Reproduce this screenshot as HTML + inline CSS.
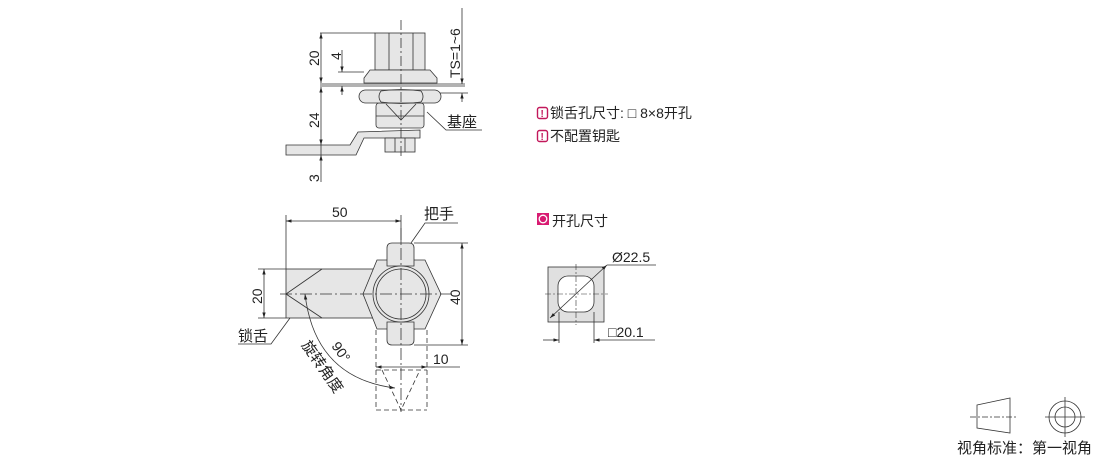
<!DOCTYPE html>
<html><head><meta charset="utf-8"><style>
html,body{margin:0;padding:0;background:#fff;}
svg{display:block;font-family:"Liberation Sans","Noto Sans CJK SC",sans-serif;}
</style></head><body>
<svg width="1110" height="461" viewBox="0 0 1110 461" xmlns="http://www.w3.org/2000/svg">
<defs>
<marker id="a" viewBox="0 0 10 10" refX="10" refY="5" markerWidth="7" markerHeight="7" orient="auto-start-reverse"><path d="M0,2 L10,5 L0,8z" fill="#222"/></marker>
</defs>
<g stroke="#333" stroke-width="0.8" fill="none">
<!-- TOP VIEW -->
<g fill="#e6e6e6">
<rect x="375" y="33" width="50" height="37"/>
<path d="M370,70 L430,70 L437,78 L437,83 L364,83 L364,78 Z"/>
<rect x="376" y="103" width="48" height="25" rx="3"/>
<path d="M286,145 L350,145 L358,132 L420,130 L420,138 L364,138 L356,155 L286,155 Z"/>
<rect x="385" y="138" width="30" height="14"/>
<rect x="359" y="90" width="82" height="13" rx="6.5"/>
</g>
<path d="M381,91 Q377,96.5 381,102 M421,91 Q425,96.5 421,102"/>
<path d="M381,91 Q401,88 421,91 M381,102 Q401,105 421,102"/>
<line x1="389" y1="33" x2="389" y2="70"/><line x1="413" y1="33" x2="413" y2="70"/>
<line x1="376" y1="116" x2="424" y2="116"/>
<path d="M386,104 L401,120 L416,104"/>
<line x1="395" y1="138" x2="395" y2="152"/><line x1="405" y1="138" x2="405" y2="152"/>
<line x1="401" y1="20" x2="401" y2="158" stroke-dasharray="10,3,2,3"/>
<line x1="320" y1="33" x2="375" y2="33"/>
<line x1="320" y1="84" x2="465" y2="84"/><line x1="320" y1="86" x2="465" y2="86"/>
<line x1="338" y1="72" x2="364" y2="72"/>
<line x1="440" y1="93" x2="468" y2="93"/>
<line x1="321" y1="33" x2="321" y2="83" marker-start="url(#a)" marker-end="url(#a)"/>
<line x1="321" y1="87" x2="321" y2="145" marker-start="url(#a)" marker-end="url(#a)"/>
<line x1="321" y1="145" x2="321" y2="155"/>
<line x1="321" y1="155" x2="321" y2="182" marker-start="url(#a)"/>
<line x1="342" y1="50" x2="342" y2="72" marker-end="url(#a)"/>
<line x1="342" y1="86" x2="342" y2="95" marker-start="url(#a)"/>
<line x1="462" y1="8" x2="462" y2="84" marker-end="url(#a)"/>
<line x1="462" y1="93" x2="462" y2="102" marker-start="url(#a)"/>
<path d="M427,112 L446,130 L482,130"/>
<!-- BOTTOM VIEW -->
<g fill="#e6e6e6">
<rect x="286" y="269" width="90" height="49"/>
<path d="M377,260 L425,260 L441,294 L425,329 L377,329 L363,294 Z"/>
<path d="M387,266 L387,248 Q387,243 392,243 L409,243 Q414,243 414,248 L414,266 Z"/>
<path d="M387,322 L387,340 Q387,345 392,345 L409,345 Q414,345 414,340 L414,322 Z"/>
<circle cx="401" cy="294" r="28"/>
<circle cx="401" cy="294" r="25"/>
</g>
<path d="M286,294 L322,269 M286,294 L322,318"/>
<line x1="280" y1="294" x2="452" y2="294" stroke-dasharray="12,3,2,3"/>
<line x1="401" y1="228" x2="401" y2="412" stroke-dasharray="12,3,2,3"/>
<line x1="286" y1="215" x2="286" y2="269"/><line x1="401" y1="215" x2="401" y2="243"/>
<line x1="286" y1="221" x2="401" y2="221" marker-start="url(#a)" marker-end="url(#a)"/>
<line x1="258" y1="269" x2="286" y2="269"/><line x1="258" y1="318" x2="286" y2="318"/>
<line x1="264" y1="269" x2="264" y2="318" marker-start="url(#a)" marker-end="url(#a)"/>
<line x1="414" y1="243" x2="468" y2="243"/><line x1="414" y1="345" x2="468" y2="345"/>
<line x1="462" y1="243" x2="462" y2="345" marker-start="url(#a)" marker-end="url(#a)"/>
<g stroke-dasharray="5,3"><line x1="376" y1="330" x2="376" y2="410"/><line x1="427" y1="330" x2="427" y2="410"/>
<line x1="376" y1="370" x2="427" y2="370"/><line x1="376" y1="410" x2="427" y2="410"/>
<path d="M382,370 L401,410 L420,370"/></g>
<line x1="376" y1="367" x2="427" y2="367" marker-start="url(#a)" marker-end="url(#a)"/>
<line x1="427" y1="367" x2="460" y2="367"/>
<path d="M305,294 Q315,378 395,388" marker-start="url(#a)" marker-end="url(#a)"/>
<path d="M290,318 L271,344 L238,344"/>
<path d="M411,243 L425,223 L458,223"/>
<!-- cutout -->
<rect x="548" y="267" width="56" height="55" fill="#e0e0e0"/>
<rect x="558" y="276" width="36" height="36" rx="10" fill="#fff"/>
<line x1="545" y1="294" x2="608" y2="294" stroke-dasharray="6,2,2,2" stroke-width="0.6"/>
<line x1="576" y1="264" x2="576" y2="325" stroke-dasharray="6,2,2,2" stroke-width="0.6"/>
<line x1="550" y1="318" x2="607" y2="265" marker-start="url(#a)" marker-end="url(#a)"/>
<line x1="607" y1="265" x2="656" y2="265"/>
<line x1="559" y1="312" x2="559" y2="343"/><line x1="594" y1="312" x2="594" y2="343"/>
<line x1="543" y1="340" x2="559" y2="340" marker-end="url(#a)"/>
<line x1="594" y1="340" x2="655" y2="340" marker-start="url(#a)"/>
<!-- legend -->
<path d="M977,405 L1010,398 L1010,433 L977,428 Z"/>
<line x1="970" y1="417" x2="1017" y2="417" stroke-dasharray="6,2,2,2"/>
<circle cx="1065" cy="417" r="16"/><circle cx="1065" cy="417" r="10"/>
<line x1="1045" y1="417" x2="1085" y2="417"/><line x1="1065" y1="397" x2="1065" y2="437"/>
</g>
<g fill="#222" font-size="14">
<text transform="translate(319,66) rotate(-90)">20</text>
<text transform="translate(341,60) rotate(-90)">4</text>
<text transform="translate(319,128) rotate(-90)">24</text>
<text transform="translate(319,182) rotate(-90)">3</text>
<text transform="translate(460,78) rotate(-90)">TS=1~6</text>
<text x="447" y="127" font-size="15">基座</text>
<text x="332" y="217">50</text>
<text transform="translate(262,304) rotate(-90)">20</text>
<text transform="translate(460,305) rotate(-90)">40</text>
<text x="433" y="364">10</text>
<text x="424" y="219" font-size="15">把手</text>
<text x="238" y="341" font-size="15">锁舌</text>
<text transform="translate(331,346) rotate(55)">90°</text>
<text transform="translate(301,345) rotate(55)" font-size="15">旋转角度</text>
<text x="612" y="262">Ø22.5</text>
<text x="608" y="337">□20.1</text>
<text x="550" y="118">锁舌孔尺寸: □ 8×8开孔</text>
<text x="550" y="141">不配置钥匙</text>
<text x="552" y="226">开孔尺寸</text>
<text x="957" y="453" font-size="15">视角标准：第一视角</text>
</g>
<g>
<rect x="537.5" y="107.5" width="10" height="11" rx="2" fill="#fff" stroke="#c2185b" stroke-width="1.4"/>
<text x="540.5" y="117" font-size="10" fill="#c2185b" font-weight="bold">!</text>
<rect x="537.5" y="130.5" width="10" height="11" rx="2" fill="#fff" stroke="#c2185b" stroke-width="1.4"/>
<text x="540.5" y="140" font-size="10" fill="#c2185b" font-weight="bold">!</text>
<rect x="537" y="213" width="12" height="12" fill="#d81b72"/>
<circle cx="543" cy="219" r="3.8" fill="none" stroke="#fff" stroke-width="1.3"/>
</g>
</svg>
</body></html>
